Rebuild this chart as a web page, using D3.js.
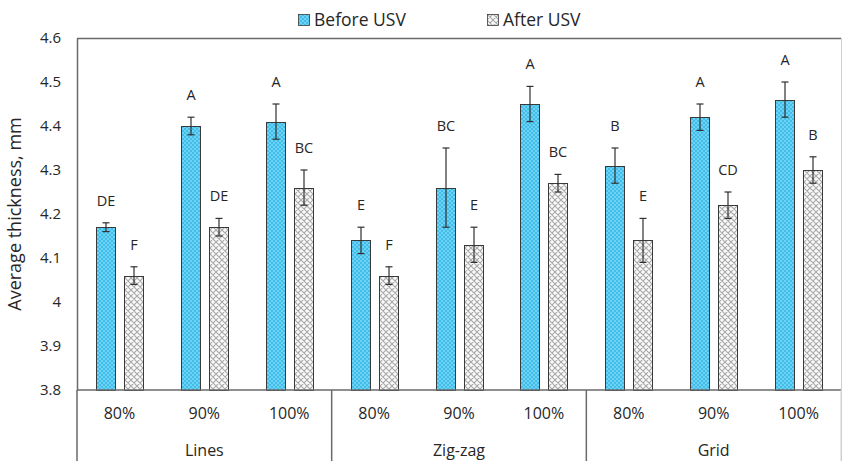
<!DOCTYPE html>
<html>
<head>
<meta charset="utf-8">
<script src="https://cdn.jsdelivr.net/npm/d3@7"></script>
<style>
  body { margin: 0; background: #fff; }
  svg text { font-family: "Open Sans", sans-serif; fill: #262626; }
</style>
</head>
<body>
<div id="chart"></div>
<script>
var groups = ["Lines", "Zig-zag", "Grid"];
var levels = ["80%", "90%", "100%"];
var seriesNames = ["Before USV", "After USV"];

var before = [4.17, 4.40, 4.41, 4.14, 4.26, 4.45, 4.31, 4.42, 4.46];
var beforeErr = [0.01, 0.02, 0.04, 0.03, 0.09, 0.04, 0.04, 0.03, 0.04];
var beforeLetters = ["DE", "A", "A", "E", "BC", "A", "B", "A", "A"];

var after = [4.06, 4.17, 4.26, 4.06, 4.13, 4.27, 4.14, 4.22, 4.30];
var afterErr = [0.02, 0.02, 0.04, 0.02, 0.04, 0.02, 0.05, 0.03, 0.03];
var afterLetters = ["F", "DE", "BC", "F", "E", "BC", "E", "CD", "B"];

var yTicks = [3.8, 3.9, 4.0, 4.1, 4.2, 4.3, 4.4, 4.5, 4.6];

var W = 842, H = 461;
var margin = {top: 38, right: 1, bottom: 71, left: 77};
var width = W - margin.left - margin.right;
var height = H - margin.top - margin.bottom;

// category keys like "Lines|80%"
var cats = [];
groups.forEach(function (g) { levels.forEach(function (l) { cats.push(g + "|" + l); }); });

var rows = cats.map(function (c, i) {
  return {
    key: c,
    level: c.split("|")[1],
    vals: [
      {s: 0, v: before[i], e: beforeErr[i], t: beforeLetters[i]},
      {s: 1, v: after[i], e: afterErr[i], t: afterLetters[i]}
    ]
  };
});

var svg = d3.select("#chart").append("svg")
  .attr("width", W)
  .attr("height", H);

var defs = svg.append("defs");
var pb = defs.append("pattern")
  .attr("id", "pBefore")
  .attr("patternUnits", "userSpaceOnUse")
  .attr("width", 4).attr("height", 4);
pb.append("rect").attr("width", 4).attr("height", 4).attr("fill", "#6dd2f4");
pb.append("rect").attr("width", 2).attr("height", 2).attr("fill", "#40bde9");
pb.append("rect").attr("x", 2).attr("y", 2).attr("width", 2).attr("height", 2).attr("fill", "#40bde9");

var pa = defs.append("pattern")
  .attr("id", "pAfter")
  .attr("patternUnits", "userSpaceOnUse")
  .attr("width", 6).attr("height", 6);
pa.append("rect").attr("width", 6).attr("height", 6).attr("fill", "#fafafa");
pa.append("path")
  .attr("d", "M0,0L6,6M6,0L0,6M-1,5L1,7M5,-1L7,1M-1,1L1,-1M5,7L7,5")
  .attr("stroke", "#a8a8a8")
  .attr("stroke-width", 1.1);

var fills = ["url(#pBefore)", "url(#pAfter)"];

var g = svg.append("g")
  .attr("transform", "translate(" + margin.left + "," + margin.top + ")");

var x0 = d3.scaleBand().domain(cats).range([0, width]).padding(0);
var x1 = d3.scaleBand().domain([0, 1]).range([0, x0.bandwidth()])
  .paddingInner(0.333).paddingOuter(0.656);
var y = d3.scaleLinear().domain([3.8, 4.6]).range([height, 0]);

// plot frame
g.append("line")
  .attr("x1", 0).attr("x2", width).attr("y1", 0.5).attr("y2", 0.5)
  .attr("stroke", "#6a6a6a").attr("stroke-width", 1.5);
svg.append("line")
  .attr("x1", W - 0.5).attr("x2", W - 0.5).attr("y1", margin.top).attr("y2", H)
  .attr("stroke", "#d0d0d0");

// bars (snapped to whole pixels so the fine pattern stays even)
var cat = g.selectAll(".cat").data(rows).enter().append("g")
  .attr("class", "cat")
  .attr("transform", function (d) { return "translate(" + Math.round(x0(d.key)) + ",0)"; });

cat.selectAll("rect").data(function (d) { return d.vals; }).enter().append("rect")
  .attr("x", function (d) { return Math.round(x1(d.s)) + 0.5; })
  .attr("y", function (d) { return Math.round(y(d.v)) + 0.5; })
  .attr("width", Math.round(x1.bandwidth()))
  .attr("height", function (d) { return height - Math.round(y(d.v)); })
  .attr("fill", function (d) { return fills[d.s]; })
  .attr("stroke", "#3a3a3a")
  .attr("stroke-width", 1);

// error bars
var eb = cat.selectAll(".err").data(function (d) { return d.vals; }).enter().append("g")
  .attr("class", "err")
  .attr("stroke", "#303030")
  .attr("stroke-width", 1.2);
var cx = function (d) { return Math.round(x1(d.s)) + Math.round(x1.bandwidth()) / 2 + 0.5; };
eb.append("line")
  .attr("x1", cx)
  .attr("x2", cx)
  .attr("y1", function (d) { return y(d.v + d.e); })
  .attr("y2", function (d) { return y(d.v - d.e); });
[1, -1].forEach(function (sg) {
  eb.append("line")
    .attr("x1", function (d) { return cx(d) - 3.5; })
    .attr("x2", function (d) { return cx(d) + 3.5; })
    .attr("y1", function (d) { return y(d.v + sg * d.e); })
    .attr("y2", function (d) { return y(d.v + sg * d.e); });
});

// letters
cat.selectAll(".lbl").data(function (d) { return d.vals; }).enter().append("text")
  .attr("class", "lbl")
  .attr("x", cx)
  .attr("y", function (d) { return y(d.v + d.e) - 17; })
  .attr("text-anchor", "middle")
  .style("font-size", "14.5px")
  .text(function (d) { return d.t; });

// y axis
var yAxis = d3.axisLeft(y).tickValues(yTicks).tickSize(0).tickPadding(16)
  .tickFormat(function (d) { return +d.toFixed(1); });
var yG = g.append("g").call(yAxis);
yG.select(".domain").attr("stroke", "#6a6a6a").attr("stroke-width", 1.5);
yG.selectAll("text").style("font-size", "15px").attr("fill", "#262626");

g.append("text")
  .attr("transform", "rotate(-90)")
  .attr("x", -height / 2)
  .attr("y", -56)
  .attr("text-anchor", "middle")
  .style("font-size", "18px")
  .text("Average thickness, mm");

// x axis (two levels)
var xG = g.append("g").attr("transform", "translate(0," + height + ")");
xG.append("line")
  .attr("x1", 0).attr("x2", width).attr("y1", 0).attr("y2", 0)
  .attr("stroke", "#6a6a6a").attr("stroke-width", 1.5);
xG.selectAll(".lvl").data(rows).enter().append("text")
  .attr("class", "lvl")
  .attr("x", function (d) { return x0(d.key) + x0.bandwidth() / 2; })
  .attr("y", 29)
  .attr("text-anchor", "middle")
  .style("font-size", "16px")
  .text(function (d) { return d.level; });
xG.selectAll(".grp").data(groups).enter().append("text")
  .attr("class", "grp")
  .attr("x", function (d) {
    return (x0(d + "|" + levels[0]) + x0(d + "|" + levels[levels.length - 1]) + x0.bandwidth()) / 2;
  })
  .attr("y", 66)
  .attr("text-anchor", "middle")
  .style("font-size", "16px")
  .text(function (d) { return d; });
xG.selectAll(".div").data(groups.concat([null])).enter().append("line")
  .attr("class", "div")
  .attr("x1", function (d, i) { return i < groups.length ? x0(d + "|" + levels[0]) : width; })
  .attr("x2", function (d, i) { return i < groups.length ? x0(d + "|" + levels[0]) : width; })
  .attr("y1", 0).attr("y2", margin.bottom)
  .attr("stroke", function (d, i) { return i < groups.length ? "#6a6a6a" : "#d0d0d0"; })
  .attr("stroke-width", function (d, i) { return i < groups.length ? 1.5 : 1; });

// legend
var legX = [298, 487];
var leg = svg.selectAll(".leg").data(seriesNames).enter().append("g")
  .attr("class", "leg")
  .attr("transform", function (d, i) { return "translate(" + legX[i] + ",14)"; });
leg.append("rect")
  .attr("x", 0.5).attr("y", 0.5)
  .attr("width", 11).attr("height", 11)
  .attr("fill", function (d, i) { return fills[i]; })
  .attr("stroke", "#3a3a3a").attr("stroke-width", 0.8);
leg.append("text")
  .attr("x", 16).attr("y", 11.5)
  .style("font-size", "17.5px")
  .text(function (d) { return d; });
</script>
</body>
</html>
